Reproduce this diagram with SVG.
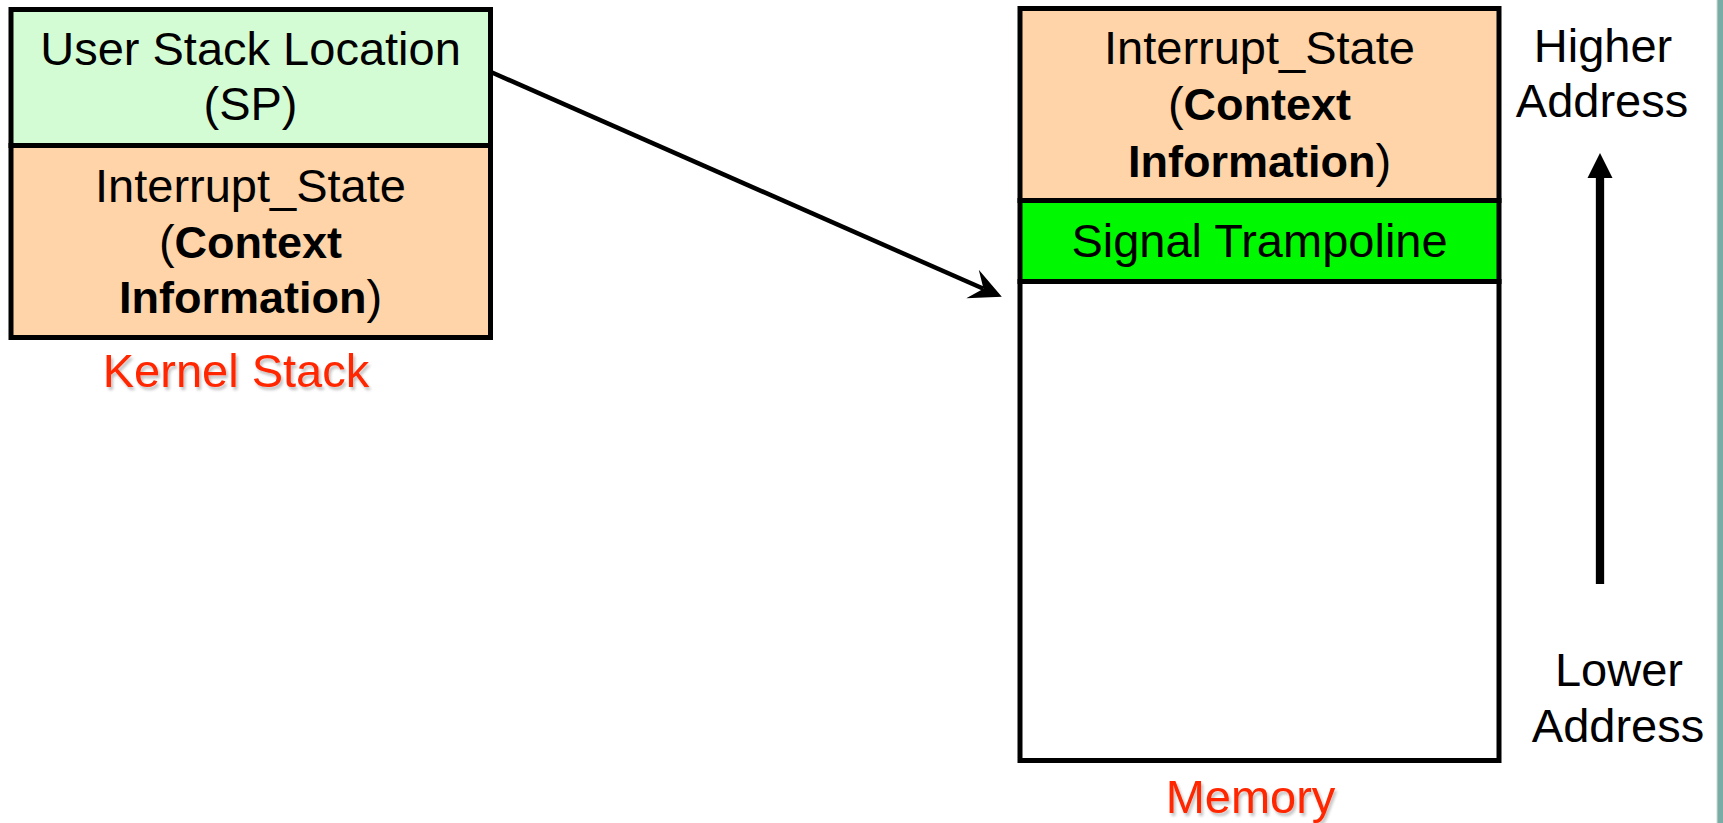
<svg xmlns="http://www.w3.org/2000/svg" width="1723" height="823" viewBox="0 0 1723 823">
  <style>
    text { font-family: "Liberation Sans", Arial, Helvetica, sans-serif; font-size: 47px; fill: #000; text-anchor: middle; }
    .b { font-weight: bold; font-size: 45px; }
    .red { fill: #ff2600; filter: url(#shadow); }
    .box { stroke: #000; stroke-width: 5; }
    .peach { fill: #fed4a8; }
    .lgreen { fill: #d4fcd4; }
    .bgreen { fill: #00f800; }
    .white { fill: #fff; }
    .conn { stroke: #000; fill: none; }
  </style>
  <defs>
    <filter id="shadow" x="-10%" y="-20%" width="130%" height="150%">
      <feGaussianBlur in="SourceAlpha" stdDeviation="1.5"/>
      <feOffset dx="2" dy="3" result="b"/>
      <feComponentTransfer in="b" result="s"><feFuncA type="linear" slope="0.25"/></feComponentTransfer>
      <feMerge><feMergeNode in="s"/><feMergeNode in="SourceGraphic"/></feMerge>
    </filter>
    <marker id="stealth" markerUnits="userSpaceOnUse" viewBox="-14 -18 36 36" markerWidth="36" markerHeight="36" refX="0" refY="0" orient="auto" overflow="visible">
      <path d="M20,0 L-12,-15.5 L0,0 L-12,15.5 Z" fill="#000"/>
    </marker>
    <marker id="tri" markerUnits="userSpaceOnUse" viewBox="0 -13 26 26" markerWidth="26" markerHeight="26" refX="0" refY="0" orient="auto" overflow="visible">
      <path d="M0,-12.5 L25,0 L0,12.5 Z" fill="#000"/>
    </marker>
  </defs>

  <rect width="1723" height="823" fill="#fff"/>
  <rect x="1717" y="0" width="6" height="823" fill="#7aaca6"/>
  <line x1="1717" y1="0" x2="1717" y2="823" stroke="#d0d8d6" stroke-width="1"/>

  <g id="kernel-stack">
    <g id="user-stack-location">
      <rect class="box lgreen" x="11" y="9.5" width="479.5" height="136"/>
      <text x="250.5" y="65">User Stack Location</text>
      <text x="250.5" y="120">(SP)</text>
    </g>
    <g id="kernel-interrupt-state">
      <rect class="box peach" x="11" y="145.5" width="479.5" height="192"/>
      <text x="250.5" y="202">Interrupt_State</text>
      <text x="250.5" y="258">(<tspan class="b">Context</tspan></text>
      <text x="250.5" y="313"><tspan class="b">Information</tspan>)</text>
    </g>
    <text id="kernel-stack-label" class="red" x="236" y="387">Kernel Stack</text>
  </g>

  <g id="memory">
    <g id="memory-interrupt-state">
      <rect class="box peach" x="1020" y="8.5" width="479" height="192"/>
      <text x="1259.5" y="64">Interrupt_State</text>
      <text x="1259.5" y="120">(<tspan class="b">Context</tspan></text>
      <text x="1259.5" y="177"><tspan class="b">Information</tspan>)</text>
    </g>
    <g id="signal-trampoline">
      <rect class="box bgreen" x="1020" y="200.5" width="479" height="81"/>
      <text x="1259.5" y="257">Signal Trampoline</text>
    </g>
    <g id="memory-free">
      <rect class="box white" x="1020" y="281.5" width="479" height="479"/>
    </g>
    <text id="memory-label" class="red" x="1250.5" y="813">Memory</text>
  </g>

  <g id="address-labels">
    <text x="1603" y="62">Higher</text>
    <text x="1602" y="117">Address</text>
    <text x="1619" y="686">Lower</text>
    <text x="1618" y="742">Address</text>
  </g>

  <g id="connectors">
    <path class="conn" d="M492,72.5 L983.5,288.8" stroke-width="4.5" marker-end="url(#stealth)"/>
    <path class="conn" d="M1600,584 L1600,178" stroke-width="8.3" marker-end="url(#tri)"/>
  </g>
</svg>
